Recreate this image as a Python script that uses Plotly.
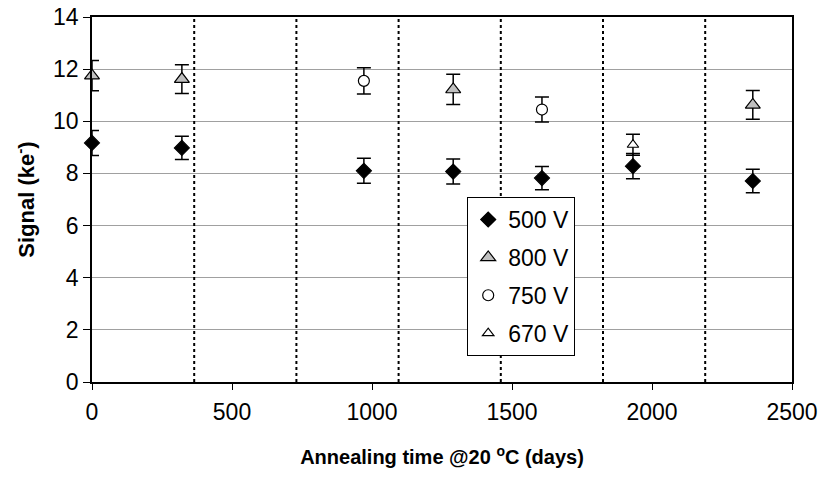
import plotly.graph_objects as go

# Annealing time at 20 °C (days) and measured signal (ke-) per bias voltage
days_500v = [0, 321, 971, 1290, 1607, 1932, 2360]
signal_500v = [9.17, 8.98, 8.1, 8.07, 7.82, 8.28, 7.71]
err_500v = [0.48, 0.45, 0.48, 0.48, 0.45, 0.48, 0.45]

days_800v = [0, 321, 1290, 2360]
signal_800v = [11.75, 11.62, 11.22, 10.63]
err_800v = [0.58, 0.55, 0.58, 0.55]

days_750v = [971, 1607]
signal_750v = [11.55, 10.45]
err_750v = [0.5, 0.48]

days_670v = [1932]
signal_670v = [9.1]
err_670v = [0.4]

# One-year marks (dotted verticals)
year_marks = [365, 730, 1095, 1460, 1825, 2190]

FONT = "Liberation Sans, Arial, sans-serif"


def series(name, x, y, err, symbol, size, fill, group):
    return go.Scatter(
        x=x, y=y, name=name, mode="markers", cliponaxis=False,
        legendgroup=group,
        marker=dict(symbol=symbol, size=size, color=fill,
                    line=dict(color="black", width=1.2)),
        error_y=dict(type="data", array=err, visible=True,
                     color="black", thickness=1.5, width=7),
    )


fig = go.Figure()
fig.add_trace(series("500 V", days_500v, signal_500v, err_500v,
                     "diamond", 11.5, "black", "a"))
fig.add_trace(series("800 V", days_800v, signal_800v, err_800v,
                     "triangle-up", 13, "#c0c0c0", "b"))
fig.add_trace(series("750 V", days_750v, signal_750v, err_750v,
                     "circle", 11, "white", "c"))
fig.add_trace(series("670 V", days_670v, signal_670v, err_670v,
                     "triangle-up", 10, "white", "d"))

for d in year_marks:
    fig.add_shape(type="line", xref="x", yref="paper", x0=d, x1=d, y0=0, y1=1,
                  line=dict(color="black", width=2, dash="3px,3px"), layer="above")

fig.update_layout(
    width=818, height=480,
    margin=dict(l=92, r=26, t=17, b=98, autoexpand=False),
    paper_bgcolor="white", plot_bgcolor="white",
    font=dict(family=FONT, color="black", size=23),
    showlegend=True,
    legend=dict(
        x=0.536, y=0.5068, xanchor="left", yanchor="top",
        bgcolor="white", bordercolor="black", borderwidth=1,
        font=dict(size=23), itemwidth=30, traceorder="grouped",
        tracegroupgap=5, itemsizing="trace",
    ),
    xaxis=dict(
        range=[0, 2500], dtick=500, tick0=0,
        showline=True, linecolor="black", linewidth=1.5, mirror=True,
        ticks="outside", ticklen=6, tickcolor="black",
        showgrid=False, zeroline=False,
        tickfont=dict(size=23), ticklabelstandoff=3,
        title=dict(text="<b>Annealing time @20 <sup>o</sup>C (days)</b>",
                   font=dict(size=20), standoff=26),
        automargin=False,
    ),
    yaxis=dict(
        range=[0, 14], dtick=2, tick0=0,
        showline=True, linecolor="black", linewidth=1.5, mirror=True,
        ticks="outside", ticklen=7, tickcolor="black",
        showgrid=True, gridcolor="#a0a0a0", gridwidth=1, zeroline=False,
        tickfont=dict(size=23),
        title=dict(text="<b>Signal (ke<sup>-</sup>)</b>",
                   font=dict(size=22), standoff=12),
        automargin=False,
    ),
)

fig.write_html("out.html")
